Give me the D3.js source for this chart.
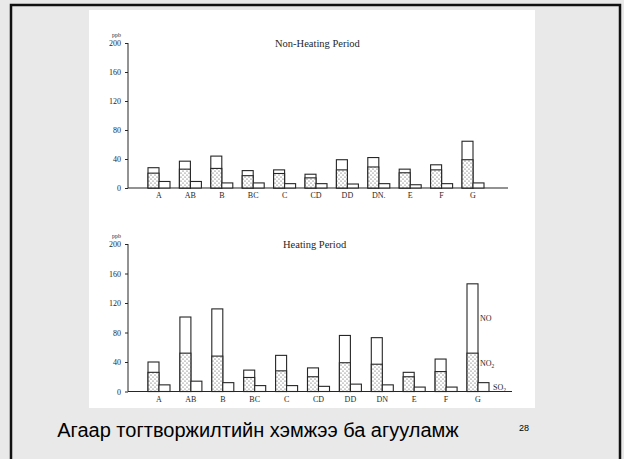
<!DOCTYPE html>
<html>
<head>
<meta charset="utf-8">
<script src="https://cdn.jsdelivr.net/npm/d3@7"></script>
<style>
  body { margin:0; background:#e9e9e9; }
  svg { display:block; }
</style>
</head>
<body>
<div id="slide"></div>
<script>
const categories = ["A","AB","B","BC","C","CD","DD","DN","E","F","G"];
const topLabels  = ["A","AB","B","BC","C","CD","DD","DN.","E","F","G"];
const yTicks = [0,40,80,120,160,200];

// Non-heating period (ppb)
const nonHeatNO2 = [20.5,26,27,17,20,14,25,29,21,25,39];
const nonHeatNO  = [7.5,11,17,7,5,5,14,13,5,7,25.5];
const nonHeatSO2 = [9,9,7,7,6,6,5.5,6,4.5,6,7];

// Heating period (ppb)
const heatNO2 = [26,52,48,19,28,20,39,37,20,27,52];
const heatNO  = [14,49,64,10,21,12,37,36,6,17,94];
const heatSO2 = [9,14,12,8,8,7,10,9,6,6,12];

const width = 624, height = 459;
const ink = "#262626";

let svg = d3.select("#slide").append("svg").attr("width",width).attr("height",height)

// slide frame
svg.append("rect").attr("width",width).attr("height",height).attr("fill","#e9e9e9")
svg.append("path").attr("d","M11,459 V5 H620 V459").attr("fill","none").attr("stroke","#111").attr("stroke-width",2.5)
svg.append("rect").attr("x",89).attr("y",10).attr("width",446).attr("height",398).attr("fill","#fff")

let defs = svg.append("defs")
let pat = defs.append("pattern").attr("id","dots").attr("patternUnits","userSpaceOnUse").attr("width",4).attr("height",4)
pat.append("rect").attr("width",4).attr("height",4).attr("fill","#fff")
pat.append("circle").attr("cx",1).attr("cy",1).attr("r",0.6).attr("fill","#444")
pat.append("circle").attr("cx",3).attr("cy",3).attr("r",0.6).attr("fill","#444")

function panel(opts){
  let y = d3.scaleLinear().domain([0,200]).range([opts.y0,opts.y200])
  let x = d3.scalePoint().domain(categories).range([opts.xa,opts.xb])
  let g = svg.append("g").attr("font-family","'Liberation Serif', serif").attr("fill",ink)

  let yAxis = d3.axisLeft(y).tickValues(yTicks).tickSize(3).tickPadding(4)
  let yg = g.append("g").attr("transform",`translate(128,0)`).call(yAxis)
  yg.select(".domain").attr("stroke",ink).attr("d",`M0,${opts.y0}V${opts.y200}`)
  yg.selectAll(".tick line").attr("stroke",ink)
  yg.selectAll(".tick text").attr("fill",ink).attr("font-size",8).attr("font-family","'Liberation Serif', serif")
  g.append("text").attr("x",112).attr("y",opts.y200-6).attr("font-size",6).text("ppb")

  // baseline
  g.append("line").attr("x1",128).attr("x2",opts.xEnd).attr("y1",opts.y0).attr("y2",opts.y0).attr("stroke",ink).attr("stroke-width",1.2)

  let bw = 11, sw = 11
  let bars = g.selectAll(".grp").data(categories).enter().append("g")
  bars.append("rect").attr("x",d=>x(d)-bw).attr("width",bw)
      .attr("y",(d,i)=>y(opts.no2[i]+opts.no[i])).attr("height",(d,i)=>y(0)-y(opts.no2[i]+opts.no[i]))
      .attr("fill","#fff").attr("stroke",ink).attr("stroke-width",1.1)
  bars.append("rect").attr("x",d=>x(d)-bw).attr("width",bw)
      .attr("y",(d,i)=>y(opts.no2[i])).attr("height",(d,i)=>y(0)-y(opts.no2[i]))
      .attr("fill","url(#dots)").attr("stroke",ink).attr("stroke-width",1.1)
  bars.append("rect").attr("x",d=>x(d)).attr("width",sw)
      .attr("y",(d,i)=>y(opts.so2[i])).attr("height",(d,i)=>y(0)-y(opts.so2[i]))
      .attr("fill","#fff").attr("stroke",ink).attr("stroke-width",1.1)

  g.selectAll(".lab").data(categories).enter().append("text")
      .attr("x",d=>x(d)).attr("y",opts.y0+10).attr("text-anchor","middle").attr("font-size",8)
      .text((d,i)=>opts.labels[i])

  g.append("text").attr("x",opts.titleX).attr("y",opts.y200+4).attr("font-size",10.5).text(opts.title)
  return {x,y,g}
}

panel({y0:188,y200:43,xa:159,xb:473,xEnd:508,no2:nonHeatNO2,no:nonHeatNO,so2:nonHeatSO2,labels:topLabels,title:"Non-Heating Period",titleX:275})
let hp = panel({y0:391.5,y200:244,xa:159,xb:478,xEnd:512,no2:heatNO2,no:heatNO,so2:heatSO2,labels:categories,title:"Heating Period",titleX:283})

// legend labels next to G bars
let last = categories.length-1, gx = hp.x("G")
function sub(t, main, xx, yy){
  let tx = hp.g.append("text").attr("x",xx).attr("y",yy).attr("font-size",8)
  tx.append("tspan").text(main)
  if(t) tx.append("tspan").attr("dy",2).attr("font-size",5.5).text(t)
}
sub(null,"NO",gx+2,hp.y(heatNO2[last]+heatNO[last]/2)+3)
sub("2","NO",gx+2,hp.y(heatNO2[last])+13)
sub("2","SO",gx+15,hp.y(heatSO2[last]/2)+3)

// caption
svg.append("text").attr("x",258).attr("y",437).attr("text-anchor","middle")
   .attr("font-family","'Liberation Sans', Arial, sans-serif").attr("font-size",20).attr("fill","#000")
   .text("Агаар тогтворжилтийн хэмжээ ба агууламж")
svg.append("text").attr("x",524).attr("y",431).attr("text-anchor","middle")
   .attr("font-family","'Liberation Sans', Arial, sans-serif").attr("font-size",9).attr("fill","#000")
   .text("28")
</script>
</body>
</html>
